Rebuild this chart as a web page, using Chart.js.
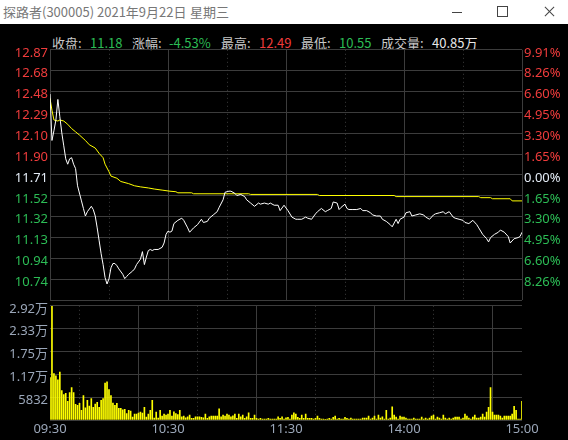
<!DOCTYPE html>
<html lang="zh-CN">
<head>
<meta charset="UTF-8">
<title>探路者(300005) 分时</title>
<script src="https://cdn.jsdelivr.net/npm/chart.js"></script>
<style>
  body {
    margin: 0;
    width: 568px;
    height: 440px;
    background: #000;
    overflow: hidden;
    position: relative;
    font-family: "Noto Sans CJK SC", "Noto Sans", sans-serif;
  }

  #titlebar {
    position: absolute;
    left: 0;
    top: 0;
    width: 568px;
    height: 24px;
    background: #fff;
    color: #777;
    font-size: 13px;
  }

  #titlebar span {
    position: absolute;
    top: 2px;
    white-space: nowrap;
  }

  .btn-min { position: absolute; left: 452px; top: 12px; width: 10px; height: 1px; background: #444; }
  .btn-max { position: absolute; left: 497px; top: 6px; width: 9px; height: 9px; border: 1px solid #444; }
  .btn-x1, .btn-x2 { position: absolute; left: 543px; top: 11px; width: 13px; height: 1px; background: #444; }
  .btn-x1 { transform: rotate(45deg); }
  .btn-x2 { transform: rotate(-45deg); }

  #info span {
    position: absolute;
    top: 33px;
    font-size: 13px;
    white-space: nowrap;
    color: #c8c8c8;
  }

  .up { color: #f03c3c !important; }
  .down { color: #2cbc55 !important; }
  .plain { color: #e8e8e8 !important; }

  .box {
    position: absolute;
    left: 0;
    width: 568px;
  }
</style>
</head>
<body>
  <div id="titlebar">
    <span style="left:3px">探路者(300005)</span>
    <span style="left:97px">2021年9月22日</span>
    <span style="left:190px">星期三</span>
    <div class="btn-min"></div>
    <div class="btn-max"></div>
    <div class="btn-x1"></div>
    <div class="btn-x2"></div>
  </div>

  <div id="info">
    <span style="left:52px">收盘:</span>
    <span style="left:90px" class="down">11.18</span>
    <span style="left:132px">涨幅:</span>
    <span style="left:169px" class="down">-4.53%</span>
    <span style="left:221px">最高:</span>
    <span style="left:259px" class="up">12.49</span>
    <span style="left:301px">最低:</span>
    <span style="left:339px" class="down">10.55</span>
    <span style="left:381px">成交量:</span>
    <span style="left:432px" class="plain">40.85万</span>
  </div>

  <div class="box" style="top:40px;height:270px">
    <canvas id="priceChart"></canvas>
  </div>
  <div class="box" style="top:296px;height:144px">
    <canvas id="volChart"></canvas>
  </div>

  <script>
    // 分时数据 (分钟序号 0 = 09:30, 240 = 15:00)
    const prevClose = 11.71;
    const priceMax = 12.87;
    const priceMin = 10.55;

    const priceMinutes = [0, 1, 2, 3, 4, 5, 6, 7, 8, 9, 10, 11, 12, 13, 14, 16, 17, 18, 19, 21, 22, 23, 24, 25, 26, 27, 28, 29, 30, 31, 32, 33, 34, 35, 37, 38, 39, 40, 42, 43, 44, 46, 47, 48, 49, 50, 51, 52, 53, 55, 57, 58, 59, 60, 61, 62, 63, 65, 67, 68, 70, 71, 73, 75, 77, 78, 80, 81, 83, 85, 86, 88, 89, 91, 92, 94, 95, 97, 99, 100, 102, 104, 106, 107, 109, 111, 112, 114, 116, 117, 119, 121, 123, 125, 126, 128, 130, 131, 133, 135, 136, 138, 140, 141, 143, 144, 146, 147, 148, 150, 151, 152, 154, 156, 158, 159, 161, 163, 164, 166, 168, 169, 171, 173, 174, 176, 177, 178, 180, 181, 183, 184, 186, 188, 190, 191, 193, 195, 196, 198, 200, 201, 203, 205, 206, 208, 210, 211, 213, 215, 217, 218, 220, 222, 223, 224, 226, 228, 229, 231, 233, 234, 236, 238, 239, 240];
    const priceValues = [12.46, 12.03, 12.12, 12.22, 12.41, 12.25, 12.10, 11.98, 11.86, 11.81, 11.86, 11.87, 11.81, 11.77, 11.61, 11.47, 11.40, 11.33, 11.37, 11.42, 11.39, 11.33, 11.22, 11.10, 10.98, 10.88, 10.76, 10.70, 10.75, 10.85, 10.89, 10.89, 10.87, 10.84, 10.79, 10.75, 10.77, 10.79, 10.82, 10.84, 10.88, 10.93, 11.00, 10.88, 10.95, 11.01, 11.02, 11.01, 11.02, 11.02, 11.04, 11.08, 11.16, 11.19, 11.18, 11.19, 11.26, 11.29, 11.31, 11.29, 11.22, 11.18, 11.22, 11.25, 11.30, 11.27, 11.28, 11.31, 11.34, 11.37, 11.41, 11.48, 11.55, 11.56, 11.56, 11.54, 11.52, 11.53, 11.51, 11.48, 11.45, 11.42, 11.45, 11.44, 11.45, 11.44, 11.45, 11.43, 11.43, 11.38, 11.43, 11.38, 11.32, 11.30, 11.30, 11.30, 11.32, 11.31, 11.30, 11.35, 11.37, 11.40, 11.37, 11.38, 11.40, 11.46, 11.45, 11.39, 11.41, 11.44, 11.40, 11.39, 11.39, 11.39, 11.40, 11.38, 11.38, 11.36, 11.34, 11.33, 11.33, 11.30, 11.28, 11.25, 11.23, 11.30, 11.26, 11.30, 11.32, 11.36, 11.37, 11.33, 11.34, 11.35, 11.34, 11.32, 11.30, 11.34, 11.35, 11.36, 11.37, 11.35, 11.37, 11.32, 11.31, 11.30, 11.29, 11.27, 11.26, 11.29, 11.25, 11.22, 11.16, 11.12, 11.09, 11.13, 11.16, 11.18, 11.20, 11.18, 11.14, 11.08, 11.12, 11.13, 11.14, 11.18];

    const avgMinutes = [0, 1, 2, 4, 5, 7, 9, 11, 13, 15, 18, 20, 23, 25, 27, 28, 30, 31, 34, 36, 40, 43, 46, 50, 53, 57, 61, 64, 65, 72, 73, 101, 102, 136, 137, 175, 176, 218, 219, 224, 225, 234, 235, 240];
    const avgValues = [12.42, 12.31, 12.22, 12.21, 12.22, 12.21, 12.18, 12.14, 12.11, 12.08, 12.03, 11.99, 11.96, 11.91, 11.87, 11.81, 11.74, 11.70, 11.68, 11.65, 11.63, 11.61, 11.60, 11.59, 11.58, 11.57, 11.56, 11.555, 11.545, 11.545, 11.536, 11.536, 11.53, 11.53, 11.52, 11.52, 11.51, 11.51, 11.50, 11.50, 11.49, 11.49, 11.47, 11.47];

    // 每分钟成交量 (股)
    const volumes = [
      10833, 29000, 11833, 11250, 10250, 12250, 7500, 6500, 6833, 4750,
      7000, 8250, 7000, 4000, 3750, 4250, 2500, 6250, 3083, 5000,
      3583, 5500, 3250, 4083, 4500, 3250, 5000, 5500, 9417, 9750,
      7750, 6250, 4333, 3750, 4250, 3000, 3000, 2583, 2750, 1667,
      2500, 2250, 750, 1500, 1500, 1750, 2000, 1750, 3250, 750,
      1500, 2500, 5000, 500, 2000, 500, 2500, 1000, 1500, 1250,
      1500, 2500, 1000,
      2083, 1667, 1400, 2500, 833, 1000, 583, 833, 1250, 417, 417, 833, 833,
      833, 667,
      583, 1500, 417, 833, 1000, 1000, 1000, 1000, 2833, 833,
      1250, 1000, 1500, 1250, 833, 1083, 1500, 417, 1500, 833,
      1250, 417, 833, 1833, 417, 417, 1250, 417, 250, 417,
      250, 250, 250, 417, 250, 250, 250, 250, 833, 417,
      833, 250, 583, 667, 250, 1250, 1833, 1500, 667, 417,
      1250, 417, 1500, 417, 417, 417, 250, 417, 1000, 417,
      250, 250, 100, 250, 417, 250, 667, 1000, 250, 417,
      250, 250, 667, 417, 250, 500, 250, 250, 250, 250,
      250, 500, 500, 500, 1000, 250, 500, 1000, 250, 1250,
      500, 833, 250, 2500,
      250, 500, 3333, 1250, 750, 250, 1000, 750, 750, 500,
      250, 250, 250, 500, 250, 250, 250, 750, 250, 500,
      250, 500,
      1000, 1250, 250, 750, 500, 250, 1250, 500, 250, 500,
      250, 500, 750, 750, 750, 250, 500, 1500, 1000, 500,
      250, 750, 1250, 500, 500, 750, 1500, 750, 2000, 3250,
      8250, 2000, 1250, 1250, 1250, 1000, 500, 1000, 1000, 1000,
      1000, 1500, 3500, 2500, 250, 250, 4750
    ];

    // 刻度 (由下到上)
    const priceTickLabels = ['', '10.74', '10.94', '11.13', '11.32', '11.52', '11.71', '11.90', '12.10', '12.29', '12.48', '12.68', '12.87'];
    const pctTickLabels = ['', '8.26%', '6.60%', '4.95%', '3.30%', '1.65%', '0.00%', '1.65%', '3.30%', '4.95%', '6.60%', '8.26%', '9.91%'];
    const volTicks = [0, 5832, 11664, 17496, 23328, 29160];
    const volTickLabels = ['', '5832', '1.17万', '1.75万', '2.33万', '2.92万'];
    const timeTicks = [0, 30, 60, 90, 120, 150, 180, 210, 240];
    const timeTickLabels = ['09:30', '', '10:30', '', '11:30', '', '14:00', '', '15:00'];

    const RED = '#f03c3c';
    const GREEN = '#2cbc55';
    const WHITE = '#e4ecf6';
    const AXIS_GRAY = '#9aa6b8';
    const GRID = '#3c3c3c';

    Chart.defaults.font.family = '"Noto Sans", "Noto Sans CJK SC", sans-serif';
    Chart.defaults.font.size = 13;

    // 价格刻度: 昨收上下各6格
    const step = (priceMax - prevClose) / 6;
    const priceTickValues = [];
    for (let k = -6; k <= 6; k++) {
      priceTickValues.push(prevClose + k * step);
    }

    function priceColor(ctx) {
      if (ctx.index > 6) return RED;
      if (ctx.index === 6) return WHITE;
      return GREEN;
    }

    // 整点实线, 半点虚线
    function timeDash(ctx) {
      if (ctx.tick && ctx.tick.value % 60 !== 0) return [1, 3];
      return [];
    }

    function setTimeTicks(scale) {
      scale.ticks = timeTicks.map(v => ({ value: v }));
    }

    new Chart(document.getElementById('priceChart'), {
      type: 'line',
      data: {
        datasets: [
          {
            label: '价格',
            data: priceMinutes.map((m, i) => ({ x: m, y: priceValues[i] })),
            borderColor: '#ffffff',
            borderWidth: 1,
            pointRadius: 0,
            tension: 0
          },
          {
            label: '均价',
            data: avgMinutes.map((m, i) => ({ x: m, y: avgValues[i] })),
            borderColor: '#ffff00',
            borderWidth: 1,
            pointRadius: 0,
            tension: 0
          }
        ]
      },
      options: {
        responsive: true,
        maintainAspectRatio: false,
        animation: false,
        layout: { padding: { top: 9, bottom: 7, left: 0, right: 0 } },
        plugins: {
          legend: { display: false },
          tooltip: { enabled: false }
        },
        scales: {
          x: {
            type: 'linear',
            min: 0,
            max: 240,
            afterBuildTicks: setTimeTicks,
            afterFit: s => { s.height = 0; },
            ticks: { display: false },
            grid: { color: GRID, drawTicks: false },
            border: { display: false, dash: timeDash }
          },
          y: {
            position: 'left',
            min: priceMin,
            max: priceMax,
            afterBuildTicks: s => { s.ticks = priceTickValues.map(v => ({ value: v })); },
            afterFit: s => { s.width = 50; },
            ticks: {
              callback: (v, i) => priceTickLabels[i],
              color: priceColor,
              padding: 2,
              labelOffset: 3,
              autoSkip: false
            },
            grid: { color: GRID, drawTicks: false },
            border: { display: false }
          },
          y2: {
            position: 'right',
            min: priceMin,
            max: priceMax,
            afterBuildTicks: s => { s.ticks = priceTickValues.map(v => ({ value: v })); },
            afterFit: s => { s.width = 46; },
            ticks: {
              callback: (v, i) => pctTickLabels[i],
              color: priceColor,
              padding: 2,
              labelOffset: 3,
              autoSkip: false
            },
            grid: { drawOnChartArea: false, drawTicks: false },
            border: { display: false }
          }
        }
      }
    });

    new Chart(document.getElementById('volChart'), {
      type: 'bar',
      data: {
        datasets: [{
          label: '成交量',
          data: volumes.map((v, i) => ({ x: i, y: v })),
          backgroundColor: '#ffff00',
          borderWidth: 0,
          barThickness: 1
        }]
      },
      options: {
        responsive: true,
        maintainAspectRatio: false,
        animation: false,
        layout: { padding: { top: 7, bottom: 0, left: 0, right: 46 } },
        plugins: {
          legend: { display: false },
          tooltip: { enabled: false }
        },
        scales: {
          x: {
            type: 'linear',
            min: 0,
            max: 240,
            offset: false,
            afterBuildTicks: setTimeTicks,
            afterFit: s => { s.height = 20; },
            ticks: {
              callback: (v, i) => timeTickLabels[i],
              color: AXIS_GRAY,
              padding: 1,
              maxRotation: 0,
              autoSkip: false
            },
            grid: { color: GRID, drawTicks: false },
            border: { display: false, dash: timeDash }
          },
          y: {
            min: 0,
            max: 29160,
            afterBuildTicks: s => { s.ticks = volTicks.map(v => ({ value: v })); },
            afterFit: s => { s.width = 50; },
            ticks: {
              callback: (v, i) => volTickLabels[i],
              color: AXIS_GRAY,
              padding: 2,
              labelOffset: 3,
              autoSkip: false
            },
            grid: { color: GRID, drawTicks: false },
            border: { display: false }
          }
        }
      }
    });
  </script>
</body>
</html>
